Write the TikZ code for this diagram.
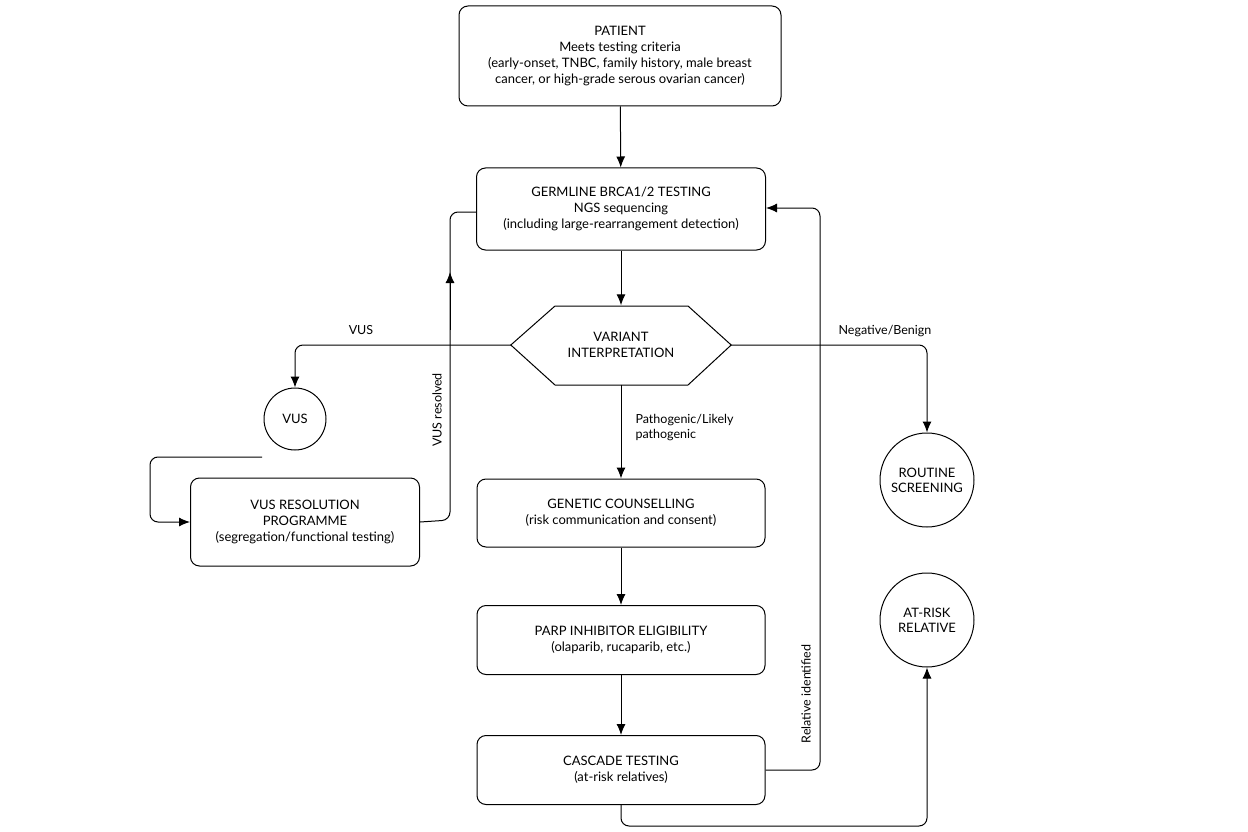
\documentclass[tikz,border=0pt]{standalone}
\usepackage{fontspec}
\setmainfont{Lato}
\usetikzlibrary{arrows.meta}
\begin{document}
\begin{tikzpicture}[x=1pt,y=-1pt,
  box/.style={draw,rounded corners=9pt,line width=1pt,align=center,inner sep=0pt,font=\fontsize{13}{16}\selectfont},
  circ/.style={draw,circle,line width=1pt,align=center,inner sep=0pt,font=\fontsize{13}{15}\selectfont},
  arr/.style={line width=1pt,-{Latex[length=11pt,width=9pt]}},
  ln/.style={line width=1pt},
  lbl/.style={font=\fontsize{12.5}{15}\selectfont,align=left}]
\useasboundingbox (0,0) rectangle (1248,832);
\node[box,minimum width=322pt,minimum height=100pt] (pat) at (620,56) {PATIENT\\Meets testing criteria\\(early-onset, TNBC, family history, male breast\\cancer, or high-grade serous ovarian cancer)};
\node[box,minimum width=289pt,minimum height=82pt] (germ) at (621,209) {GERMLINE BRCA1/2 TESTING\\NGS sequencing\\(including large-rearrangement detection)};
\node[align=center,inner sep=0pt,minimum width=220pt,minimum height=79pt,font=\fontsize{13}{16}\selectfont] (var) at (621,345) {VARIANT\\INTERPRETATION};
\draw[line width=1pt] (var.west) -- (555,306) -- (688,306) -- (var.east) -- (688,385) -- (555,385) -- cycle;
\node[circ,minimum size=62pt] (vus) at (295,419) {VUS};
\node[box,minimum width=229pt,minimum height=88pt] (vres) at (305,522) {VUS RESOLUTION\\PROGRAMME\\(segregation/functional testing)};
\node[box,minimum width=288pt,minimum height=68pt] (gc) at (621,513) {GENETIC COUNSELLING\\(risk communication and consent)};
\node[box,minimum width=288pt,minimum height=69pt] (parp) at (621,640) {PARP INHIBITOR ELIGIBILITY\\(olaparib, rucaparib, etc.)};
\node[box,minimum width=288pt,minimum height=69pt] (casc) at (621,770) {CASCADE TESTING\\(at-risk relatives)};
\node[circ,minimum size=94pt] (rout) at (927,480) {ROUTINE\\SCREENING};
\node[circ,minimum size=94pt] (risk) at (927,620) {AT-RISK\\RELATIVE};
\coordinate (c1) at (295,345);
\coordinate (c2) at (927,345);
\draw[arr] (pat) -- (germ);
\draw[arr] (germ) -- (var.north);
\draw[arr,rounded corners=8pt] (var.west) -- (c1) -- (vus.north);
\node[lbl] (lv) at (361,330) {VUS};
\draw[arr,rounded corners=8pt] (var.east) -- (c2) -- (rout.north);
\node[lbl] (ln) at (885,331) {Negative/Benign};
\draw[arr] (var.south) -- (gc.north);
\node[lbl,anchor=west] (lp) at (632,428) {Pathogenic/Likely\\pathogenic};
\draw[arr] (gc) -- (parp);
\draw[arr] (parp) -- (casc);
\draw[arr,rounded corners=8pt] (262,457) -- (150,457) -- (150,522) -- (vres.west);
\draw[ln,rounded corners=8pt] (vres.east) -- (450,520) -- (450,212) -- (germ.west |- 0,212);
\draw[arr] (450,330) -- (450,272);
\node[lbl,rotate=90] (lr) at (437,410) {VUS resolved};
\draw[arr,rounded corners=8pt] (casc.east) -- (820,770) -- (820,208) -- (germ.east |- 0,208);
\node[lbl,rotate=90] (li) at (806,694) {Relative identified};
\draw[arr,rounded corners=8pt] (casc.south) -- (621,826) -- (927,826) -- (risk.south);
\end{tikzpicture}
\end{document}
